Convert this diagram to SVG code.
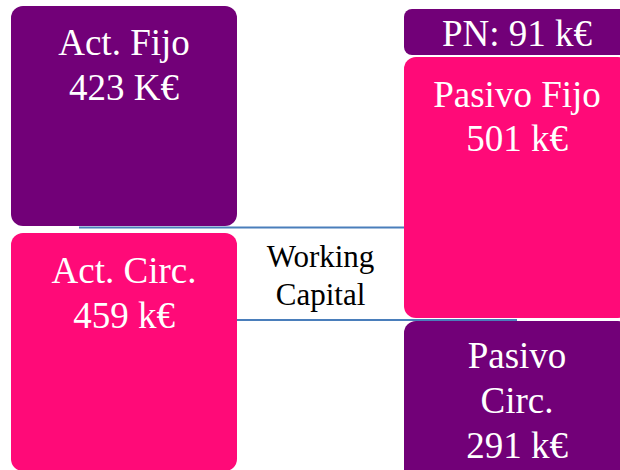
<svg xmlns="http://www.w3.org/2000/svg" width="620" height="470" viewBox="0 0 620 470">
  <style>
    .purple { fill: #720078; }
    .pink { fill: #FF0A78; }
    .lbl { font-family: 'Liberation Serif', 'Times New Roman', serif; font-size: 37px; fill: #ffffff; text-anchor: middle; }
    .wc { font-family: 'Liberation Serif', 'Times New Roman', serif; font-size: 31px; fill: #000000; text-anchor: middle; }
    .link { stroke: #4A7EBB; stroke-width: 2; fill: none; }
  </style>
  <rect width="620" height="470" fill="#ffffff"/>

  <!-- working capital boundary lines -->
  <g id="connectors">
    <line class="link" x1="79" y1="227.5" x2="405" y2="227.5"/>
    <line class="link" x1="237" y1="320" x2="517" y2="320"/>
  </g>

  <g id="act-fijo">
    <rect class="purple" x="11" y="6" width="226" height="220" rx="12"/>
    <text class="lbl" x="124" y="55">Act. Fijo</text>
    <text class="lbl" x="124" y="100">423 K€</text>
  </g>

  <g id="act-circ">
    <rect class="pink" x="11" y="233" width="226" height="238" rx="12"/>
    <text class="lbl" x="124" y="283">Act. Circ.</text>
    <text class="lbl" x="124" y="328">459 k€</text>
  </g>

  <g id="pn">
    <rect class="purple" x="404" y="9" width="226" height="46" rx="8"/>
    <text class="lbl" x="517" y="46">PN: 91 k€</text>
  </g>

  <g id="pasivo-fijo">
    <rect class="pink" x="404" y="57" width="226" height="261" rx="12"/>
    <text class="lbl" x="517" y="107">Pasivo Fijo</text>
    <text class="lbl" x="517" y="151">501 k€</text>
  </g>

  <g id="pasivo-circ">
    <rect class="purple" x="404" y="321" width="226" height="160" rx="12"/>
    <text class="lbl" x="517" y="368">Pasivo</text>
    <text class="lbl" x="517" y="413">Circ.</text>
    <text class="lbl" x="517" y="458">291 k€</text>
  </g>

  <g id="working-capital">
    <text class="wc" x="320.5" y="267">Working</text>
    <text class="wc" x="320.5" y="305">Capital</text>
  </g>
</svg>
